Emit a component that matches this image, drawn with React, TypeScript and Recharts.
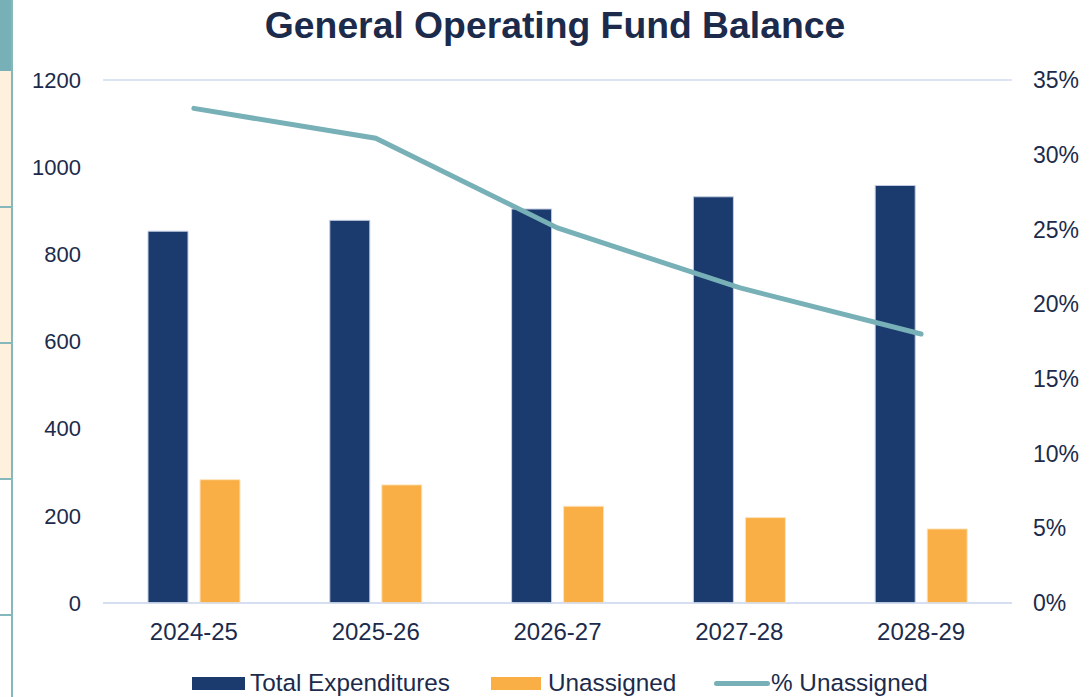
import React from "react";
import { ComposedChart, Bar, Line, XAxis, YAxis, CartesianGrid } from "recharts";

const categories = ["2024-25", "2025-26", "2026-27", "2027-28", "2028-29"];
const totalExpenditures = [853, 878, 904, 932, 958];
const unassigned = [283, 271, 222, 196, 170];
const pctUnassigned = [0.331, 0.311, 0.251, 0.211, 0.18];
const leftTicks = [0, 200, 400, 600, 800, 1000, 1200];
const rightTicks = [0, 0.05, 0.1, 0.15, 0.2, 0.25, 0.3, 0.35];
const seriesNames = ["Total Expenditures", "Unassigned", "% Unassigned"];

const NAVY = "#1b3a6d";
const ORANGE = "#f9af45";
const TEAL = "#77b0b6";
const TEXT = "#1c2b4b";
const GRID = "#d2dcf1";
const FONT = "'Liberation Sans', Arial, sans-serif";

const data = categories.map((c, i) => ({
  name: c,
  total: totalExpenditures[i],
  unassigned: unassigned[i],
  pct: pctUnassigned[i],
}));

const cellLines = [71, 207, 343, 479, 615];

export default function App() {
  return (
    <div style={{ position: "absolute", left: 0, top: 0, width: 1091, height: 697, background: "#fff", fontFamily: FONT, overflow: "hidden" }}>
      {/* left edge table fragment */}
      <div style={{ position: "absolute", left: 0, top: 0, width: 12, height: 71, background: "#77b0b6" }} />
      <div style={{ position: "absolute", left: 0, top: 71, width: 11, height: 408, background: "#fdf0dc" }} />
      <div style={{ position: "absolute", left: 11, top: 0, width: 2, height: 697, background: "#84b8bd" }} />
      {cellLines.slice(1).map((y) => (
        <div key={y} style={{ position: "absolute", left: 0, top: y - 1, width: 12, height: 2, background: "#84b8bd" }} />
      ))}
      <div style={{ position: "absolute", left: 0, top: 0, width: 1091, textAlign: "center", paddingLeft: 19, boxSizing: "border-box", fontSize: 37.3, fontWeight: 700, color: TEXT, lineHeight: "50px" }}>
        General Operating Fund Balance
      </div>
      <div style={{ position: "absolute", left: 0, top: 0 }}>
        <ComposedChart width={1091} height={697} data={data} margin={{ top: 80, right: 0, bottom: 0, left: 0 }} barGap={12}>
          <CartesianGrid horizontal vertical={false} stroke={GRID} strokeWidth={1.5} />
          <XAxis dataKey="name" height={94} axisLine={{ stroke: GRID, strokeWidth: 1.5 }} tickLine={false} tickMargin={14}
            tick={{ fill: TEXT, fontSize: 24, fontFamily: FONT }} />
          <YAxis yAxisId="left" width={103} domain={[0, 1200]} ticks={leftTicks} axisLine={false} tickLine={false} tickMargin={16}
            tick={{ fill: TEXT, fontSize: 22, fontFamily: FONT }} />
          <YAxis yAxisId="right" orientation="right" width={79} domain={[0, 0.35]} ticks={rightTicks} axisLine={false} tickLine={false} tickMargin={15}
            tickFormatter={(v: number) => `${Math.round(v * 100)}%`} tick={{ fill: TEXT, fontSize: 23, fontFamily: FONT, textAnchor: "start" }} />
          <Bar yAxisId="left" dataKey="total" name={seriesNames[0]} fill={NAVY} stroke="#c3cde2" strokeWidth={1} barSize={40} isAnimationActive={false} />
          <Bar yAxisId="left" dataKey="unassigned" name={seriesNames[1]} fill={ORANGE} stroke="#fde4bd" strokeWidth={1} barSize={40} isAnimationActive={false} />
          <Line yAxisId="right" dataKey="pct" name={seriesNames[2]} type="linear" stroke={TEAL} strokeWidth={5} strokeLinecap="round" dot={false} activeDot={false} isAnimationActive={false} />
        </ComposedChart>
      </div>
      {/* legend */}
      <div style={{ position: "absolute", left: 192, top: 677, width: 53, height: 13, background: NAVY }} />
      <div style={{ position: "absolute", left: 250, top: 669, fontSize: 24.3, color: TEXT, lineHeight: "28px" }}>{seriesNames[0]}</div>
      <div style={{ position: "absolute", left: 491, top: 677, width: 50, height: 13, background: ORANGE }} />
      <div style={{ position: "absolute", left: 548, top: 669, fontSize: 24.3, color: TEXT, lineHeight: "28px" }}>{seriesNames[1]}</div>
      <div style={{ position: "absolute", left: 714, top: 681, width: 56, height: 5, borderRadius: 3, background: TEAL }} />
      <div style={{ position: "absolute", left: 771, top: 669, fontSize: 24.3, color: TEXT, lineHeight: "28px" }}>{seriesNames[2]}</div>
    </div>
  );
}
